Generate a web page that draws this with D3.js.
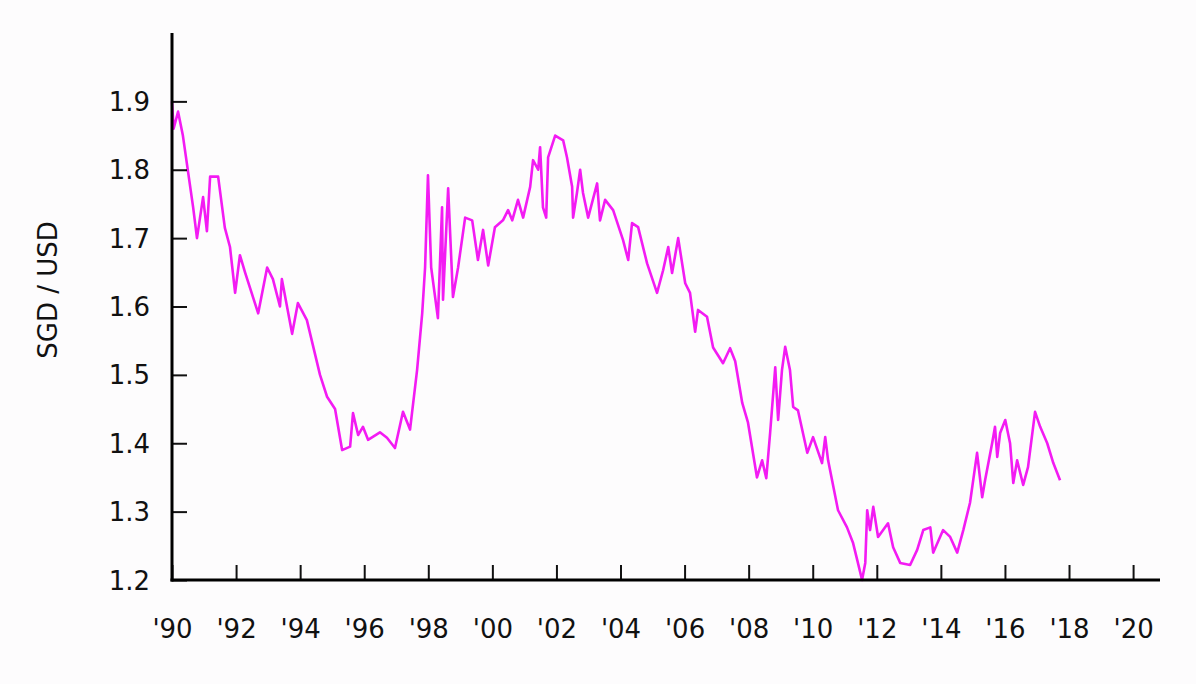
<!DOCTYPE html>
<html>
<head>
<meta charset="utf-8">
<script src="https://cdn.jsdelivr.net/npm/d3@7"></script>
<style>
  body { margin: 0; background: #fdfcfd; }
  text { font-family: "DejaVu Sans", sans-serif; fill: #111; }
</style>
</head>
<body>
<svg id="chart" width="1196" height="684"></svg>
<script>
// decimal years and SGD per USD
const years = [1990.0,1990.05,1990.19,1990.34,1990.66,1990.78,1990.97,1991.09,1991.19,1991.44,1991.65,1991.81,1991.97,1992.12,1992.28,1992.69,1992.97,1993.15,1993.37,1993.43,1993.75,1993.93,1994.21,1994.62,1994.84,1995.09,1995.31,1995.56,1995.65,1995.81,1995.96,1996.12,1996.49,1996.71,1996.96,1997.21,1997.43,1997.65,1997.81,1997.90,1997.99,1998.09,1998.30,1998.43,1998.46,1998.62,1998.77,1998.93,1999.15,1999.37,1999.55,1999.71,1999.87,2000.08,2000.33,2000.49,2000.62,2000.80,2000.96,2001.18,2001.27,2001.43,2001.49,2001.58,2001.68,2001.74,2001.96,2002.21,2002.33,2002.49,2002.52,2002.64,2002.74,2002.83,2002.99,2003.27,2003.36,2003.52,2003.77,2004.08,2004.24,2004.36,2004.55,2004.83,2005.14,2005.33,2005.49,2005.61,2005.80,2006.02,2006.17,2006.33,2006.42,2006.70,2006.89,2007.20,2007.42,2007.58,2007.80,2007.98,2008.26,2008.42,2008.55,2008.67,2008.83,2008.92,2009.04,2009.14,2009.29,2009.39,2009.54,2009.83,2010.01,2010.29,2010.39,2010.48,2010.79,2011.07,2011.26,2011.39,2011.54,2011.64,2011.70,2011.79,2011.89,2012.04,2012.35,2012.51,2012.73,2013.04,2013.26,2013.45,2013.67,2013.76,2014.07,2014.29,2014.51,2014.70,2014.91,2015.13,2015.29,2015.38,2015.60,2015.69,2015.76,2015.85,2016.01,2016.16,2016.26,2016.38,2016.57,2016.72,2016.94,2017.10,2017.32,2017.51,2017.72];
const rates = [1.90,1.86,1.885,1.85,1.745,1.70,1.76,1.71,1.79,1.79,1.715,1.687,1.62,1.675,1.65,1.59,1.657,1.64,1.60,1.64,1.56,1.605,1.58,1.50,1.468,1.45,1.39,1.395,1.444,1.412,1.424,1.405,1.416,1.408,1.393,1.446,1.42,1.507,1.59,1.657,1.792,1.657,1.583,1.745,1.61,1.773,1.614,1.657,1.73,1.726,1.668,1.712,1.66,1.716,1.726,1.741,1.726,1.756,1.73,1.775,1.814,1.80,1.833,1.745,1.73,1.818,1.85,1.843,1.818,1.775,1.73,1.766,1.80,1.766,1.73,1.78,1.726,1.756,1.741,1.697,1.668,1.722,1.716,1.663,1.62,1.653,1.687,1.649,1.70,1.634,1.62,1.563,1.595,1.585,1.54,1.517,1.539,1.52,1.459,1.43,1.35,1.375,1.349,1.415,1.511,1.434,1.507,1.541,1.507,1.453,1.448,1.386,1.409,1.371,1.409,1.375,1.302,1.277,1.254,1.229,1.20,1.225,1.302,1.273,1.307,1.263,1.283,1.248,1.225,1.222,1.244,1.273,1.277,1.24,1.273,1.263,1.24,1.273,1.313,1.386,1.321,1.346,1.40,1.424,1.38,1.415,1.434,1.40,1.342,1.375,1.339,1.365,1.446,1.424,1.40,1.371,1.346];
const yTicks = [1.2, 1.3, 1.4, 1.5, 1.6, 1.7, 1.8, 1.9];
const xTicks = [1990,1992,1994,1996,1998,2000,2002,2004,2006,2008,2010,2012,2014,2016,2018,2020];

const svg = d3.select("#chart");
const mLeft = 172, mRight = 1160, mTop = 33, mBottom = 580;

const x = d3.scaleLinear().domain([1990, 2020.84]).range([mLeft, mRight]);
const y = d3.scaleLinear().domain([1.2, 2.0]).range([mBottom, mTop]);

// line first so the axes sit on top
svg.append("path")
  .datum(d3.zip(years, rates))
  .attr("fill", "none")
  .attr("stroke", "#f31bf3")
  .attr("stroke-width", 2.6)
  .attr("stroke-linejoin", "round")
  .attr("d", d3.line().x(d => x(d[0])).y(d => y(d[1])));

// x axis, ticks pointing up into the plot
const gx = svg.append("g")
  .attr("transform", "translate(0," + mBottom + ")")
  .call(d3.axisTop(x).tickValues(xTicks).tickSize(15).tickFormat(""));
gx.selectAll(".tick line").attr("stroke", "#111").attr("stroke-width", 2);
gx.select(".domain").remove();
gx.selectAll(".tick").append("text")
  .attr("y", 58)
  .attr("text-anchor", "middle")
  .attr("font-size", 26)
  .text(d => "'" + String(d).slice(2));

// y axis, ticks pointing right
const gy = svg.append("g")
  .attr("transform", "translate(" + mLeft + ",0)")
  .call(d3.axisRight(y).tickValues(yTicks).tickSize(15).tickFormat(""));
gy.selectAll(".tick line").attr("stroke", "#111").attr("stroke-width", 2);
gy.select(".domain").remove();
gy.selectAll(".tick").append("text")
  .attr("x", -22)
  .attr("dy", "0.35em")
  .attr("text-anchor", "end")
  .attr("font-size", 26)
  .text(d => d3.format(".1f")(d));

// axis lines
svg.append("line").attr("x1", mLeft).attr("x2", mLeft).attr("y1", mTop).attr("y2", mBottom + 1.5)
  .attr("stroke", "#000").attr("stroke-width", 3);
svg.append("line").attr("x1", mLeft - 1.5).attr("x2", mRight).attr("y1", mBottom).attr("y2", mBottom)
  .attr("stroke", "#000").attr("stroke-width", 3);

svg.append("text")
  .attr("transform", "translate(57,290) rotate(-90)")
  .attr("text-anchor", "middle")
  .attr("font-size", 26)
  .text("SGD / USD");
</script>
</body>
</html>
